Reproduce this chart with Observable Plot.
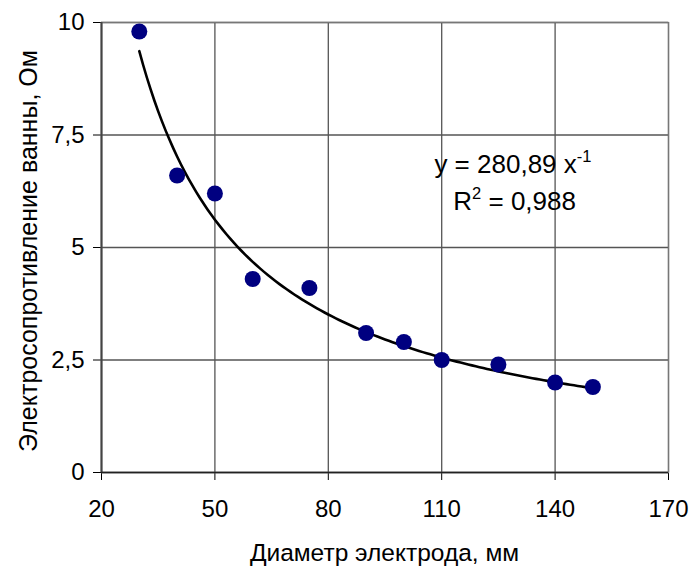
<!DOCTYPE html>
<html>
<head>
<meta charset="utf-8">
<script src="https://cdn.jsdelivr.net/npm/d3@7"></script>
<script src="https://cdn.jsdelivr.net/npm/@observablehq/plot@0.6"></script>
<style>
  body { margin: 0; background: #fff; }
  #chart { width: 690px; height: 566px; }
</style>
</head>
<body>
<div id="chart"></div>
<script>
const diameters = [30, 40, 50, 60, 75, 90, 100, 110, 125, 140, 150];
const resistance = [9.8, 6.6, 6.2, 4.3, 4.1, 3.1, 2.9, 2.5, 2.4, 2.0, 1.9];
const xTicks = [20, 50, 80, 110, 140, 170];
const yTicks = [0, 2.5, 5, 7.5, 10];
const fitCoef = 280.89;   // power trendline y = a * x^-1
const fitExp = -1;
const fitR2 = "0,988";

const points = diameters.map((d, i) => ({x: d, y: resistance[i]}));
const xMin = d3.min(diameters), xMax = d3.max(diameters);
const trend = d3.range(0, 121).map(i => {
  const x = xMin + (xMax - xMin) * i / 120;
  return {x, y: fitCoef * Math.pow(x, fitExp)};
});

const fmt = v => String(v).replace(".", ",");

const plot = Plot.plot({
  width: 690,
  height: 566,
  marginLeft: 101,
  marginRight: 22,
  marginTop: 22,
  marginBottom: 94,
  style: {fontFamily: "'Liberation Sans', Arial, sans-serif", fontSize: "24px", background: "#fff", color: "#000"},
  x: {domain: [20, 170], ticks: xTicks, tickSize: 8, tickPadding: 19, label: null, tickFormat: fmt},
  y: {domain: [0, 10], ticks: yTicks, tickSize: 8, tickPadding: 9, label: null, tickFormat: fmt},
  marks: [
    Plot.gridX(xTicks, {stroke: "#555", strokeOpacity: 1, strokeWidth: 1.3}),
    Plot.gridY(yTicks, {stroke: "#555", strokeOpacity: 1, strokeWidth: 1.3}),
    Plot.frame({stroke: "#777", strokeWidth: 1.3}),
    Plot.ruleX([20], {stroke: "#444", strokeWidth: 2}),
    Plot.ruleY([0], {stroke: "#222", strokeWidth: 1.5}),
    Plot.line(trend, {x: "x", y: "y", stroke: "#000", strokeWidth: 2.6}),
    Plot.dot(points, {x: "x", y: "y", r: 8, fill: "#000080", stroke: "none"})
  ]
});

document.getElementById("chart").appendChild(plot);

const svg = d3.select(plot);
const sx = plot.scale("x"), sy = plot.scale("y");
const ff = "'Liberation Sans', Arial, sans-serif";

// Trendline equation annotation
const eq = svg.append("text")
  .attr("x", sx.apply(108.2)).attr("y", sy.apply(6.65))
  .attr("text-anchor", "start")
  .attr("font-family", ff).attr("font-size", 26).attr("fill", "#000");
eq.append("tspan").text("y = " + String(fitCoef).replace(".", ",") + " x");
eq.append("tspan").attr("font-size", 16.5).attr("dy", -11).text(String(fitExp));

const r2 = svg.append("text")
  .attr("x", sx.apply(113.2)).attr("y", sy.apply(5.83))
  .attr("text-anchor", "start")
  .attr("font-family", ff).attr("font-size", 26).attr("fill", "#000");
r2.append("tspan").text("R");
r2.append("tspan").attr("font-size", 16.5).attr("dy", -11).text("2");
r2.append("tspan").attr("dy", 11).text(" = " + fitR2);

// Axis titles
svg.append("text")
  .attr("x", (sx.apply(20) + sx.apply(170)) / 2).attr("y", 561)
  .attr("text-anchor", "middle")
  .attr("font-family", ff).attr("font-size", 24.5).attr("fill", "#000")
  .text("Диаметр электрода, мм");

svg.append("text")
  .attr("transform", `translate(37, ${(sy.apply(0) + sy.apply(10)) / 2 + 4}) rotate(-90)`)
  .attr("text-anchor", "middle")
  .attr("font-family", ff).attr("font-size", 25).attr("fill", "#000")
  .text("Электросопротивление ванны, Ом");
</script>
</body>
</html>
